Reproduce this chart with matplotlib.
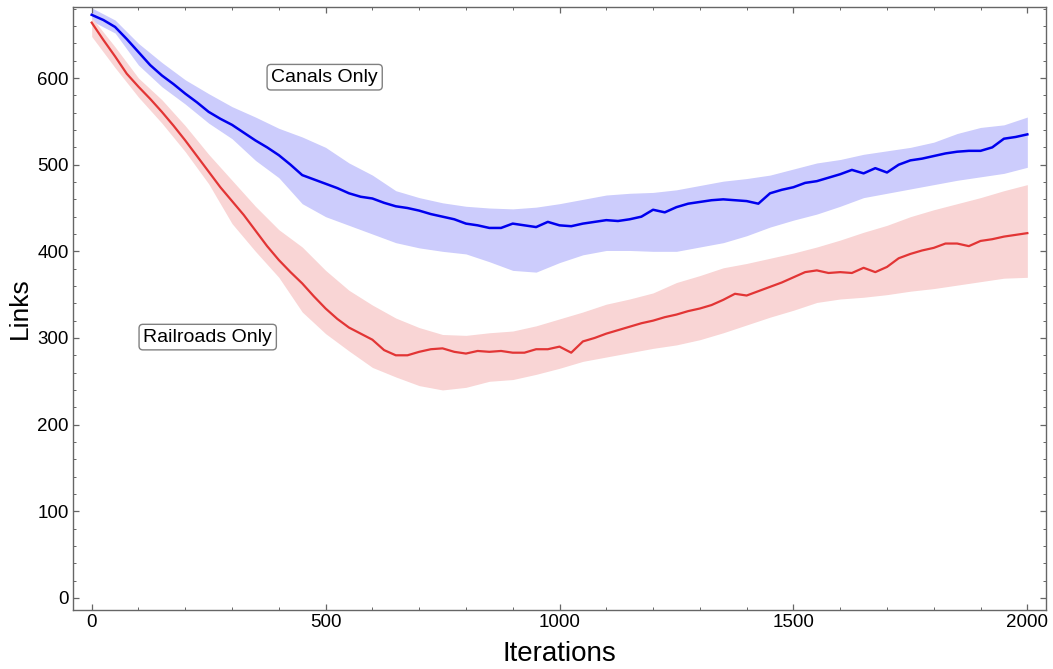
import numpy as np
import matplotlib
matplotlib.use("Agg")
import matplotlib.pyplot as plt
from matplotlib.ticker import MultipleLocator

plt.rcParams['font.family'] = ['Liberation Sans', 'DejaVu Sans']

# mean curves, sampled every 25 iterations
line_iter = list(range(0, 2001, 25))
canals_mean = [673, 667, 659, 645, 630, 615, 603, 593, 582, 572, 561, 553, 546, 537, 528, 520,
               511, 500, 488, 483, 478, 473, 467, 463, 461, 456, 452, 450, 447, 443, 440, 437,
               432, 430, 427, 427, 432, 430, 428, 434, 430, 429, 432, 434, 436, 435, 437, 440,
               448, 445, 451, 455, 457, 459, 460, 459, 458, 455, 467, 471, 474, 479, 481, 485,
               489, 494, 490, 496, 491, 500, 505, 507, 510, 513, 515, 516, 516, 520, 530, 532, 535]
rail_mean = [664, 644, 625, 605, 590, 576, 561, 545, 528, 510, 492, 474, 458, 442, 424, 406,
             390, 376, 363, 348, 334, 322, 312, 305, 298, 286, 280, 280, 284, 287, 288, 284,
             282, 285, 284, 285, 283, 283, 287, 287, 290, 283, 296, 300, 305, 309, 313, 317,
             320, 324, 327, 331, 334, 338, 344, 351, 349, 354, 359, 364, 370, 376, 378, 375,
             376, 375, 381, 376, 382, 392, 397, 401, 404, 409, 409, 406, 412, 414, 417, 419, 421]

# spread bands, sampled every 50 iterations
band_iter = list(range(0, 2001, 50))
canals_hi = [681, 667, 640, 618, 598, 582, 567, 555, 542, 532, 520, 502, 488, 470, 462, 456,
             452, 450, 449, 451, 455, 460, 465, 467, 468, 471, 476, 481, 484, 488, 495, 502,
             506, 512, 516, 520, 526, 536, 543, 546, 555]
canals_lo = [666, 652, 615, 590, 570, 548, 530, 505, 485, 455, 440, 430, 420, 410, 404, 400,
             397, 388, 378, 376, 387, 396, 401, 401, 400, 400, 405, 410, 418, 428, 436, 443,
             452, 462, 467, 472, 477, 482, 486, 490, 497]
rail_hi = [670, 636, 600, 575, 545, 512, 482, 452, 425, 405, 378, 355, 338, 323, 312, 304,
           303, 306, 308, 314, 322, 330, 339, 345, 352, 364, 372, 381, 386, 392, 398, 405,
           413, 422, 430, 440, 448, 455, 462, 470, 477]
rail_lo = [648, 612, 578, 548, 515, 478, 432, 400, 370, 330, 305, 285, 266, 255, 245, 240,
           243, 250, 252, 258, 265, 273, 278, 283, 288, 292, 298, 306, 315, 324, 332, 341,
           345, 347, 350, 354, 357, 361, 365, 369, 370]

fig = plt.figure(figsize=(10.53, 6.69), dpi=100)
ax = fig.add_axes([0.0693, 0.0882, 0.9241, 0.9013])

ax.fill_between(band_iter, canals_lo, canals_hi, color='#ccccfc', lw=0)
ax.fill_between(band_iter, rail_lo, rail_hi, color='#f9d5d5', lw=0)
ax.plot(line_iter, canals_mean, color='#0000ee', lw=1.8)
ax.plot(line_iter, rail_mean, color='#e23535', lw=1.6)

box = dict(boxstyle='round,pad=0.22,rounding_size=0.2', fc='white', ec='#808080', lw=1)
ax.text(498, 601, 'Canals Only', fontsize=14, ha='center', va='center', bbox=box)
ax.text(248, 301, 'Railroads Only', fontsize=14, ha='center', va='center', bbox=box)

ax.set_xlim(-40, 2040)
ax.set_ylim(-14, 682)
ax.xaxis.set_major_locator(MultipleLocator(500))
ax.xaxis.set_minor_locator(MultipleLocator(100))
ax.yaxis.set_major_locator(MultipleLocator(100))
ax.yaxis.set_minor_locator(MultipleLocator(20))
ax.tick_params(which='both', direction='in', top=True, right=True, color='#666666',
               labelsize=13.5, pad=3)
ax.tick_params(which='major', length=4.5, width=0.9)
ax.tick_params(which='minor', length=2.5, width=0.7)
for s in ax.spines.values():
    s.set_color('#666666')
    s.set_linewidth(1)

ax.set_xlabel('Iterations', fontsize=20, labelpad=7)
ax.set_ylabel('Links', fontsize=19, labelpad=4)

fig.savefig('out.png', dpi=100)
